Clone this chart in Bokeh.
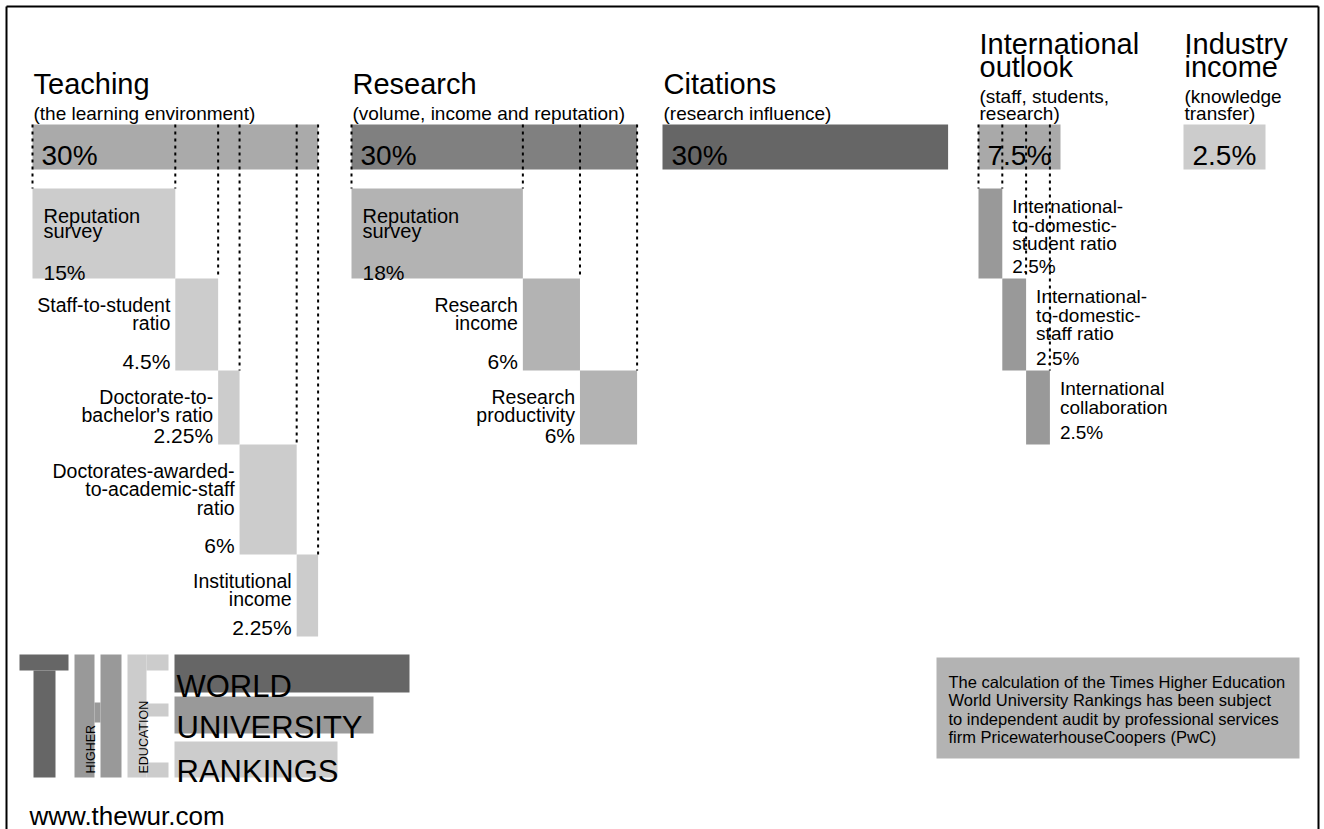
import math
from bokeh.plotting import figure
from bokeh.models import Range1d
from bokeh.core.properties import value
from bokeh.embed import file_html
from bokeh.resources import INLINE

# ---------------- data ----------------
pillars = ["Teaching", "Research", "Citations", "International\noutlook", "Industry\nincome"]
pillar_notes = ["(the learning environment)", "(volume, income and reputation)",
                "(research influence)", "(staff, students,\nresearch)", "(knowledge\ntransfer)"]
pillar_weights = [30, 30, 30, 7.5, 2.5]
pillar_labels = ["30%", "30%", "30%", "7.5%", "2.5%"]

teaching_items = ["Reputation\nsurvey", "Staff-to-student\nratio", "Doctorate-to-\nbachelor's ratio",
                  "Doctorates-awarded-\nto-academic-staff\nratio", "Institutional\nincome"]
teaching_weights = [15, 4.5, 2.25, 6, 2.25]
teaching_labels = ["15%", "4.5%", "2.25%", "6%", "2.25%"]

research_items = ["Reputation\nsurvey", "Research\nincome", "Research\nproductivity"]
research_weights = [18, 6, 6]
research_labels = ["18%", "6%", "6%"]

intl_items = ["International-\nto-domestic-\nstudent ratio", "International-\nto-domestic-\nstaff ratio",
              "International\ncollaboration"]
intl_weights = [2.5, 2.5, 2.5]
intl_labels = ["2.5%", "2.5%", "2.5%"]

logo_words = ["WORLD", "UNIVERSITY", "RANKINGS"]
logo_small = ["HIGHER", "EDUCATION"]
site_url = "www.thewur.com"
audit_note = ["The calculation of the Times Higher Education",
              "World University Rankings has been subject",
              "to independent audit by professional services",
              "firm PricewaterhouseCoopers (PwC)"]

# ---------------- layout / style ----------------
FONT = value("Liberation Sans")
SCALE = 9.52               # px per percentage point
pillar_x = [32, 351, 662, 978, 1183]
pillar_colors = ["#aaaaaa", "#808080", "#666666", "#a9a9a9", "#cccccc"]
BAR_TOP, BAR_BOT = 124, 169
MIN_BOX = 82
row_edges = [188, 278, 370, 444, 554, 636]
W, H = 1324, 829

p = figure(width=W, height=H, x_range=Range1d(0, W), y_range=Range1d(H, 0),
           output_backend="svg", toolbar_location=None, min_border=0,
           x_axis_type=None, y_axis_type=None, outline_line_color=None,
           background_fill_color="white", border_fill_color="white")
p.grid.visible = False


def txt(xs, ys, texts, size, align="left", font=FONT, angle=0.0, color="black"):
    p.text(x=xs, y=ys, text=texts, text_font=font, text_font_size=size,
           text_align=align, text_baseline="alphabetic", text_color=color, angle=angle)


# frame (open at the bottom)
p.segment(x0=[6, 6, 1318], y0=[6, 6, 6], x1=[1318, 6, 1318], y1=[6, H, H],
          line_color="black", line_width=2)

# pillar headers and top bars
for i, name in enumerate(pillars):
    x0 = pillar_x[i]
    w = max(pillar_weights[i] * SCALE, MIN_BOX)
    p.quad(left=[x0], right=[x0 + w], top=[BAR_TOP], bottom=[BAR_BOT],
           fill_color=pillar_colors[i], line_color=None)
    notes = pillar_notes[i].split("\n")
    n_y = [112.5 - 17 * (len(notes) - 1 - k) for k in range(len(notes))]
    txt([x0 + 1] * len(notes), n_y, notes, "19px")
    tl = name.split("\n")
    t_y = [n_y[0] - 29 - 23 * (len(tl) - 1 - k) for k in range(len(tl))]
    txt([x0 + 1] * len(tl), t_y, tl, "29px")

# breakdowns
groups = [
    (0, teaching_items, teaching_weights, teaching_labels, "#cccccc", "left"),
    (1, research_items, research_weights, research_labels, "#b3b3b3", "left"),
    (3, intl_items, intl_weights, intl_labels, "#999999", "right"),
]
for gi, items, weights, labels, color, side in groups:
    edges = [pillar_x[gi]]
    for w in weights:
        edges.append(edges[-1] + w * SCALE)
    n = len(items)
    p.quad(left=edges[:-1], right=edges[1:], top=row_edges[:n], bottom=row_edges[1:n + 1],
           fill_color=color, line_color=None)
    # dotted guide lines
    gx = [edges[0]] + edges[1:]
    gy = [row_edges[0]] + row_edges[:n]
    p.segment(x0=gx, y0=[BAR_TOP] * len(gx), x1=gx, y1=gy,
              line_color="black", line_width=2, line_dash="3 4")
    for i, item in enumerate(items):
        lines = item.split("\n")
        top, bot = row_edges[i], row_edges[i + 1]
        if side == "right":
            ys = [top + 18 + 18.5 * k for k in range(len(lines))]
            txt([edges[i + 1] + 10] * len(lines), ys, lines, "19px")
            txt([edges[i + 1] + 10], [bot - 12], [labels[i]], "19px")
        elif i == 0:
            ys = [top + 27 + 15 * k for k in range(len(lines))]
            txt([edges[0] + 11] * len(lines), ys, lines, "20px")
            txt([edges[0] + 11], [bot - 6], [labels[i]], "21px")
        else:
            ys = [top + 26 + 18.5 * k for k in range(len(lines))]
            txt([edges[i] - 5] * len(lines), ys, lines, "19.5px", align="right")
            txt([edges[i] - 5], [bot - 9], [labels[i]], "21px", align="right")

# top-bar percentages
txt([x + 9 for x in pillar_x], [155] * len(pillar_x), pillar_labels, "28px")

# ---------------- logo ----------------
p.quad(left=[19, 33], right=[68, 55], top=[654, 670], bottom=[670, 777],
       fill_color="#666666", line_color=None)                       # T
p.quad(left=[74, 100, 94], right=[94, 121, 100], top=[654, 654, 702], bottom=[777, 777, 722],
       fill_color="#999999", line_color=None)                       # H
p.quad(left=[127, 146, 146, 146], right=[146, 168, 168, 168], top=[654, 654, 703, 762],
       bottom=[777, 670, 716, 777], fill_color="#cccccc", line_color=None)  # E
p.quad(left=[174, 174, 174], right=[409, 373, 337], top=[654, 696, 741], bottom=[692, 733, 777],
       fill_color=["#666666", "#999999", "#cccccc"], line_color=None)
txt([176, 176, 176], [686, 727, 771], logo_words, "31px")
txt([90, 143.5], [773, 773], logo_small, "12.5px", angle=math.pi / 2)
txt([29], [815], [site_url], "26px")

# ---------------- audit note ----------------
p.quad(left=[936], right=[1299], top=[657], bottom=[758], fill_color="#b3b3b3", line_color=None)
txt([948] * 4, [681 + 18.6 * k for k in range(4)], audit_note, "16.5px")

open("out.html", "w").write(file_html(p, INLINE))
